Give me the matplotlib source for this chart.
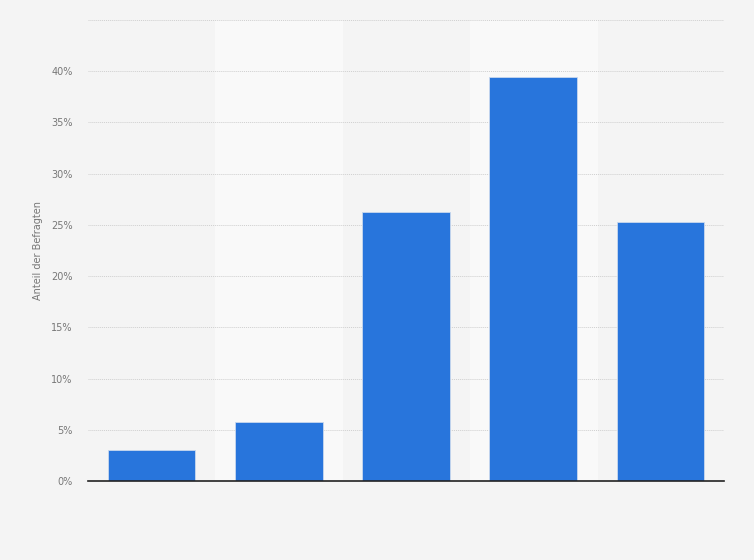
import numpy as np
import matplotlib.pyplot as plt
from matplotlib.ticker import FuncFormatter

# values (share of respondents, %)
categories = ['1', '2', '3', '4', '5']
values = [3.0, 5.8, 26.3, 39.4, 25.3]
yticks = [0, 5, 10, 15, 20, 25, 30, 35, 40, 45]

fig = plt.figure(figsize=(7.54, 5.6), dpi=100)
fig.patch.set_facecolor('#f4f4f4')
ax = fig.add_axes([88/754, 79/560, 636/754, 461/560])
ax.set_facecolor('#f4f4f4')

x = np.arange(len(categories))
# lighter bands behind every second column
for i in x:
    if i % 2 == 1:
        ax.axvspan(i - 0.5, i + 0.5, color='#f9f9f9', zorder=0)

ax.bar(x, values, width=0.69, color='#2875dc', edgecolor='#c9d8ee', linewidth=0.6, zorder=3)

ax.set_xlim(-0.5, len(categories) - 0.5)
ax.set_ylim(0, 45)
ax.set_yticks(yticks)
ax.yaxis.set_major_formatter(FuncFormatter(lambda v, p: '' if v >= 45 else '%d%%' % v))
ax.grid(axis='y', color='#cfcfcf', linestyle=(0, (1, 1)), linewidth=0.7, zorder=1)
ax.set_xticks([])
ax.tick_params(axis='y', length=0, labelsize=7, labelcolor='#777777', pad=11)

for s in ['top', 'right', 'left']:
    ax.spines[s].set_visible(False)
ax.spines['bottom'].set_color('#222222')
ax.spines['bottom'].set_linewidth(1.2)
ax.spines['bottom'].set_zorder(4)

ax.set_ylabel('Anteil der Befragten', fontsize=7, color='#777777', labelpad=6)

fig.savefig('out.png', dpi=100, facecolor=fig.get_facecolor())
